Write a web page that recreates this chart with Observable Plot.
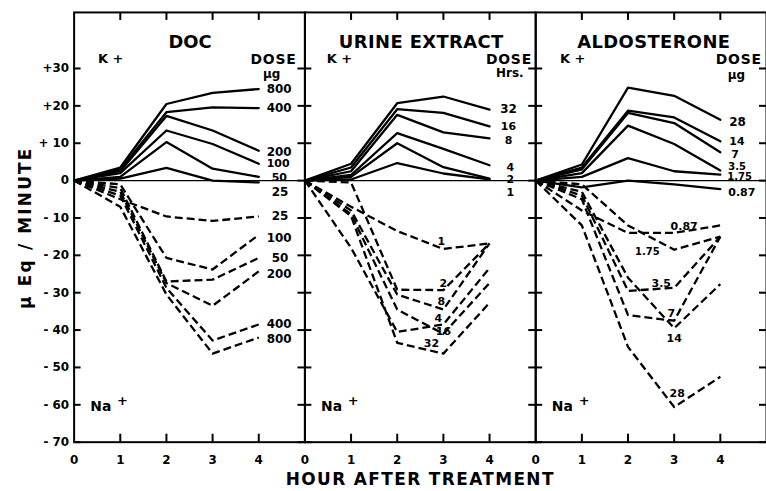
<!DOCTYPE html>
<html><head><meta charset="utf-8">
<script src="https://cdn.jsdelivr.net/npm/d3@7"></script>
<script src="https://cdn.jsdelivr.net/npm/@observablehq/plot@0.6"></script>
<style>html,body{margin:0;padding:0;background:#fff;overflow:hidden}</style>
</head><body><div id="chart"></div>
<script>
// ---------- data ----------
const panels = ["DOC", "URINE EXTRACT", "ALDOSTERONE"];
const doseUnits = ["μg", "Hrs.", "μg"];
const hours = [0, 1, 2, 3, 4];

const docKDoses = ["800", "400", "200", "100", "50", "25"];
const docK = [
  [0, 3.5, 20.5, 23.5, 24.5],
  [0, 3.0, 18.3, 19.6, 19.4],
  [0, 2.5, 17.3, 13.4, 8.0],
  [0, 2.0, 13.4, 9.8, 4.5],
  [0, 1.0, 10.3, 3.2, 1.0],
  [0, 0.5, 3.4, 0.0, -0.5]
];
const docNaDoses = ["25", "100", "50", "200", "400", "800"];
const docNa = [
  [0, -5, -9.6, -10.8, -9.6],
  [0, -1, -20.7, -23.8, -14.5],
  [0, -2, -27.0, -26.5, -20.7],
  [0, -3, -27.4, -33.5, -24.3],
  [0, -4, -28.7, -42.8, -38.5],
  [0, -7, -30.5, -46.3, -42.0]
];

const urineKDoses = ["32", "16", "8", "4", "2", "1"];
const urineK = [
  [0, 4.5, 20.7, 22.5, 19.0],
  [0, 3.5, 19.1, 18.1, 14.5],
  [0, 2.5, 17.6, 12.9, 11.3],
  [0, 1.5, 12.7, 8.5, 4.1],
  [0, 1.0, 10.0, 3.6, 0.5],
  [0, 0.3, 4.7, 1.9, 0.3]
];
const urineNaDoses = ["1", "2", "8", "4", "16", "32"];
const urineNa = [
  [0, -7, -13.5, -18.3, -16.8],
  [0, -0.5, -29.2, -29.3, -16.8],
  [0, -8, -30.5, -34.5, -16.8],
  [0, -18, -40.5, -38.5, -23.4],
  [0, -9, -34.5, -41.0, -27.4],
  [0, -9.5, -43.4, -46.3, -32.7]
];

const aldoKDoses = ["28", "14", "7", "3.5", "1.75", "0.87"];
const aldoK = [
  [0, 4.3, 24.9, 22.7, 16.3],
  [0, 3.5, 18.7, 16.9, 10.5],
  [0, 3.0, 18.1, 15.4, 7.6],
  [0, 2.0, 14.7, 9.8, 2.7],
  [0, 1.0, 6.0, 2.5, 1.6],
  [0, -1.8, 0.0, -1.0, -2.3]
];
const aldoNaDoses = ["0.87", "1.75", "3.5", "7", "14", "28"];
const aldoNa = [
  [0, -8, -14.0, -14.0, -12.0],
  [0, -1, -12.0, -18.5, -15.0],
  [0, -4, -29.5, -28.7, -15.0],
  [0, -5, -36.0, -37.5, -15.0],
  [0, -3, -26.0, -39.5, -27.7],
  [0, -12, -44.5, -60.6, -52.5]
];

const yTicks = [30, 20, 10, 0, -10, -20, -30, -40, -50, -60, -70];
const yTickLabels = ["+30", "+20", "+ 10", "0", "- 10", "- 20", "- 30", "- 40", "- 50", "- 60", "- 70"];
const xTicks = [0, 1, 2, 3, 4];
const xTickLabels = ["0", "1", "2", "3", "4"];
const yLabel = "μ Eq / MINUTE";
const xLabel = "HOUR AFTER TREATMENT";

// ---------- build table ----------
const rows = [];
function addSeries(panel, ion, doses, values) {
  doses.forEach((dose, i) => hours.forEach((h, j) =>
    rows.push({panel, ion, dose, hour: h, value: values[i][j]})));
}
addSeries("DOC", "K", docKDoses, docK);
addSeries("DOC", "Na", docNaDoses, docNa);
addSeries("URINE EXTRACT", "K", urineKDoses, urineK);
addSeries("URINE EXTRACT", "Na", urineNaDoses, urineNa);
addSeries("ALDOSTERONE", "K", aldoKDoses, aldoK);
addSeries("ALDOSTERONE", "Na", aldoNaDoses, aldoNa);

// label placement (which hour to anchor at, pixel nudges)
const labelLayout = [
  ["DOC","K","800",4,8,0,"start",12],["DOC","K","400",4,8,0,"start",12],["DOC","K","200",4,8,1,"start",12],
  ["DOC","K","100",4,8,0,"start",11],["DOC","K","50",4,13,1,"start",11],["DOC","K","25",4,13,10,"start",12],
  ["DOC","Na","25",4,13,0,"start",12],["DOC","Na","100",4,8,3,"start",12],["DOC","Na","50",4,13,0,"start",12],
  ["DOC","Na","200",4,8,3,"start",12],["DOC","Na","400",4,8,0,"start",12],["DOC","Na","800",4,8,2,"start",12],
  ["URINE EXTRACT","K","32",4,19,0,"middle",12],["URINE EXTRACT","K","16",4,19,0,"middle",11],["URINE EXTRACT","K","8",4,19,2,"middle",11],
  ["URINE EXTRACT","K","4",4,21,2,"middle",11],["URINE EXTRACT","K","2",4,21,1,"middle",11],["URINE EXTRACT","K","1",4,21,13,"middle",11],
  ["URINE EXTRACT","Na","1",3,-2,-8,"middle",11],["URINE EXTRACT","Na","2",3,0,-7,"middle",11],["URINE EXTRACT","Na","8",3,-2,-8,"middle",11],
  ["URINE EXTRACT","Na","4",3,-5,-6,"middle",11],["URINE EXTRACT","Na","16",3,0,-2,"middle",11],["URINE EXTRACT","Na","32",3,-12,-10,"middle",11],
  ["ALDOSTERONE","K","28",4,9,2,"start",12],["ALDOSTERONE","K","14",4,9,0,"start",11],["ALDOSTERONE","K","7",4,11,2,"start",11],
  ["ALDOSTERONE","K","3.5",4,8,-4,"start",10],["ALDOSTERONE","K","1.75",4,7,2,"start",10],["ALDOSTERONE","K","0.87",4,8,3,"start",11],
  ["ALDOSTERONE","Na","0.87",3,10,-6,"middle",11],["ALDOSTERONE","Na","1.75",3,-27,2,"middle",10],["ALDOSTERONE","Na","3.5",3,-13,-4,"middle",11],
  ["ALDOSTERONE","Na","7",3,-3,-7,"middle",11],["ALDOSTERONE","Na","14",3,0,10,"middle",11],["ALDOSTERONE","Na","28",3,3,-14,"middle",11]
];
const labels = labelLayout.map(([panel, ion, dose, at, dx, dy, anchor, size]) => {
  const r = rows.find(d => d.panel === panel && d.ion === ion && d.dose === dose && d.hour === at);
  return {panel, dose, hour: at, value: r.value, dx, dy, anchor, size};
});

const W = 770, H = 491, ML = 74, MR = 0, MT = 12, MB = 47;
const fw = (W - ML - MR) / panels.length, fh = H - MT - MB;

function labelMarks() {
  const groups = d3.groups(labels, d => `${d.dx}|${d.dy}|${d.anchor}|${d.size}`);
  return groups.map(([, g]) => Plot.text(g, {
    fx: "panel", x: "hour", y: "value", text: "dose",
    dx: g[0].dx, dy: g[0].dy, textAnchor: g[0].anchor, fontSize: g[0].size, fontWeight: "bold"
  }));
}

// per-panel annotation placement
const titleX = [2.51, 2.52, 2.56];
const kX = [0.79, 0.75, 0.8];
const doseX = [4.32, 4.42, 4.4];
const unitX = [4.28, 4.44, 4.35], unitDy = [62, 61, 63];
const perPanel = (xs, opts) => panels.map((p, i) => Plot.text([p], {fx: d => d, x: xs[i],
  frameAnchor: "top", lineAnchor: "middle", fontWeight: "bold", ...opts(i)}));

const chart = Plot.plot({
  width: W, height: H,
  marginLeft: ML, marginRight: MR, marginTop: MT, marginBottom: MB,
  style: {fontFamily: "DejaVu Sans", fontWeight: "bold", fontSize: "12px", background: "#fff", color: "#000"},
  fx: {domain: panels, padding: 0, axis: null, round: false},
  x: {domain: [0, 5]},
  y: {domain: [-70, 45]},
  marks: [
    Plot.ruleY([0], {stroke: "#000", strokeWidth: 1.3}),
    Plot.line(rows.filter(d => d.ion === "K"), {fx: "panel", x: "hour", y: "value", z: "dose",
      stroke: "#000", strokeWidth: 2.3}),
    Plot.line(rows.filter(d => d.ion === "Na"), {fx: "panel", x: "hour", y: "value", z: "dose",
      stroke: "#000", strokeWidth: 2.3, strokeDasharray: "8,4", strokeLinecap: "butt"}),
    Plot.frame({stroke: "#000", strokeWidth: 2}),
    Plot.tickY(yTicks, {y: d => d, insetRight: fw - 7, stroke: "#000", strokeWidth: 2}),
    Plot.tickY(yTicks, {y: d => d, insetLeft: fw - 7, stroke: "#000", strokeWidth: 2}),
    Plot.tickX(xTicks.slice(1), {x: d => d, insetTop: fh - 8, stroke: "#000", strokeWidth: 2}),
    Plot.tickX(xTicks.slice(1), {x: d => d, insetBottom: fh - 8, stroke: "#000", strokeWidth: 2}),
    Plot.axisY({anchor: "left", ticks: yTicks, tickSize: 0, tickPadding: 5, label: null,
      tickFormat: d => yTickLabels[yTicks.indexOf(d)], fontSize: 12, fontWeight: "bold"}),
    Plot.axisX({anchor: "bottom", ticks: xTicks, tickSize: 0, tickPadding: 13, label: null,
      tickFormat: d => xTickLabels[xTicks.indexOf(d)], fontSize: 12, fontWeight: "bold"}),
    ...perPanel(titleX, () => ({dy: 30, text: d => d, fontSize: 18})),
    ...perPanel(kX, () => ({dy: 47, text: () => "K +", fontSize: 13})),
    ...perPanel(doseX, () => ({dy: 47, text: () => "DOSE", fontSize: 14})),
    ...perPanel(unitX, i => ({dy: unitDy[i], text: () => doseUnits[i], fontSize: 12})),
    Plot.text(panels, {fx: d => d, x: 0.35, frameAnchor: "bottom", lineAnchor: "middle", dy: -36,
      text: () => "Na", textAnchor: "start", fontSize: 14, fontWeight: "bold"}),
    Plot.text(panels, {fx: d => d, x: 0.93, frameAnchor: "bottom", lineAnchor: "middle", dy: -42,
      text: () => "+", textAnchor: "start", fontSize: 13, fontWeight: "bold"}),
    ...labelMarks(),
    Plot.text([yLabel], {fx: () => "DOC", x: 0, y: -12.6, dx: -49, rotate: -90,
      textAnchor: "middle", lineAnchor: "middle", text: d => d, fontSize: 17, fontWeight: "bold"}),
    Plot.text([xLabel], {fx: () => "URINE EXTRACT", frameAnchor: "bottom", lineAnchor: "middle", dy: 38,
      textAnchor: "middle", text: d => d, fontSize: 17, fontWeight: "bold"})
  ]
});
document.getElementById("chart").appendChild(chart);

// letter spacing for the wide display lettering
const spacing = new Map([[yLabel, "2.2px"], [xLabel, "1.4px"], ["URINE EXTRACT", "0.4px"],
  ["ALDOSTERONE", "0.4px"], ["DOSE", "0.8px"]]);
d3.select(chart).selectAll("text").each(function () {
  const s = spacing.get(this.textContent);
  if (s) this.style.letterSpacing = s;
});
</script>
</body></html>
